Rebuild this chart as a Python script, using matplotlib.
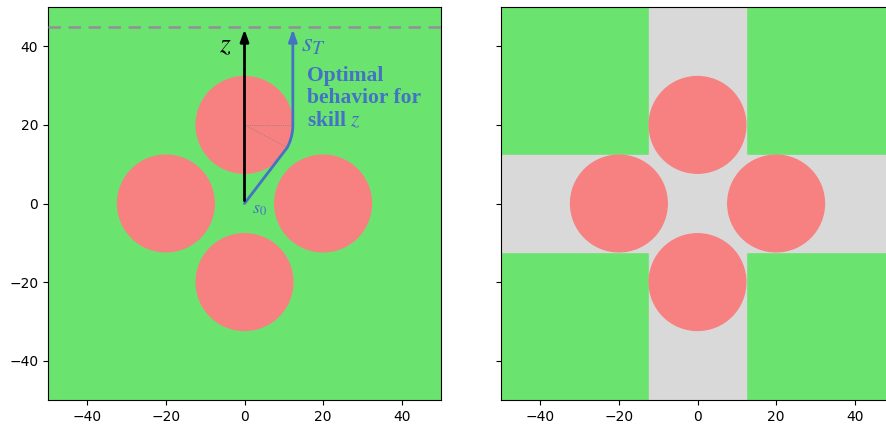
import numpy as np
import matplotlib.pyplot as plt
from matplotlib.patches import Circle, Rectangle

# obstacles (centres) and radius
obst_x = [0, 0, -20, 20]
obst_y = [20, -20, 0, 0]
rayon = 12.3
demi_couloir = 12.3
goal_y = 45
arc_angle = -28  # degrés, point où la trajectoire rejoint l'obstacle

vert = "#6be46f"
rouge = "#f78181"
gris = "#d9d9d9"
bleu = "#4472c4"

plt.rcParams["mathtext.fontset"] = "stix"

fig = plt.figure(figsize=(8.86, 4.24), dpi=100)
ax1 = fig.add_axes([48 / 886, 24 / 424, 393 / 886, 393 / 424])
ax2 = fig.add_axes([501 / 886, 24 / 424, 393 / 886, 393 / 424])

for ax in (ax1, ax2):
    ax.set_xlim(-50, 50)
    ax.set_ylim(-50, 50)
    ax.set_facecolor(vert)
    ax.set_xticks([-40, -20, 0, 20, 40])
    ax.set_yticks([-40, -20, 0, 20, 40])
    ax.tick_params(labelsize=10)

# panneau de droite : couloirs gris
ax2.add_patch(Rectangle((-50, -demi_couloir), 100, 2 * demi_couloir, color=gris, zorder=1))
ax2.add_patch(Rectangle((-demi_couloir, -50), 2 * demi_couloir, 100, color=gris, zorder=1))
ax2.set_yticklabels([])

for ax in (ax1, ax2):
    for cx, cy in zip(obst_x, obst_y):
        ax.add_patch(Circle((cx, cy), rayon, color=rouge, zorder=2))

# panneau de gauche
ax1.axhline(goal_y, color="#968e98", ls=(0, (5, 3)), lw=1.8, zorder=3)

# trajectoire optimale : ligne droite, arc autour de l'obstacle, puis verticale
theta = np.radians(np.linspace(arc_angle, 0, 20))
arc_x = obst_x[0] + rayon * np.cos(theta)
arc_y = obst_y[0] + rayon * np.sin(theta)
px = np.concatenate([[0], arc_x, [rayon]])
py = np.concatenate([[0], arc_y, [goal_y - 3]])
ax1.plot(px, py, color=bleu, lw=2, zorder=4, solid_capstyle="round")
ax1.annotate("", xy=(rayon, goal_y), xytext=(rayon, goal_y - 3.5),
             arrowprops=dict(arrowstyle="-|>,head_width=0.25,head_length=0.7",
                             color=bleu, lw=2), zorder=5)

# lignes de construction grises
ax1.plot([0, rayon], [20, 20], color="gray", lw=0.6, ls=":", zorder=3)
ax1.plot([0, arc_x[0]], [20, arc_y[0]], color="gray", lw=0.6, ls=":", zorder=3)

ax1.annotate("", xy=(0, goal_y), xytext=(0, 0),
             arrowprops=dict(arrowstyle="-|>,head_width=0.25,head_length=0.7",
                             color="black", lw=2), zorder=5)

ax1.text(-4.8, 40.5, "$z$", fontsize=20, ha="center", va="center", color="black")
ax1.text(17.5, 40.8, "$s_T$", fontsize=20, ha="center", va="center", color=bleu)
ax1.text(3.7, -1.3, "$s_0$", fontsize=13, ha="center", va="center", color=bleu)
ax1.text(16, 35.0, "Optimal\nbehavior for\nskill $z$", fontsize=15.5, fontweight="bold",
         family="Liberation Serif", color=bleu, ha="left", va="top", linespacing=1.15)

plt.savefig("out.png", dpi=100)
